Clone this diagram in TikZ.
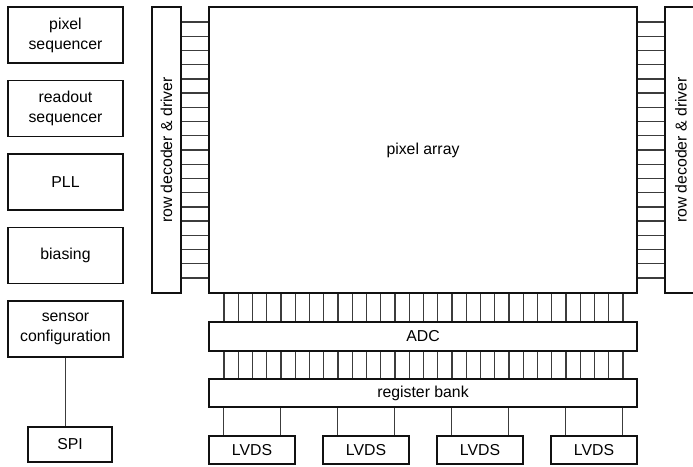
\documentclass[tikz,border=0pt]{standalone}
\usepackage{fontspec}
\setmainfont{Liberation Sans}
\usetikzlibrary{positioning}
\definecolor{wiregray}{HTML}{3C3C3C}
\definecolor{boxblack}{HTML}{111111}

\tikzset{
  block/.style={draw=boxblack, line width=0.85pt, minimum width=2.3cm, minimum height=1.12cm,
    inner sep=0pt, align=center, font=\fontsize{9}{11.4}\selectfont},
  wire/.style={wiregray, line width=0.75pt},
  label/.style={font=\fontsize{9}{11.4}\selectfont, inner sep=0pt},
}

\begin{document}
\begin{tikzpicture}[line width=0.85pt]
  \useasboundingbox (0,0) rectangle (13.86,9.32);

  \node[block] (pixseq) at (1.31,8.62) {pixel\\sequencer};
  \node[block, below=0.32cm of pixseq] (roseq) {readout\\sequencer};
  \node[block, below=0.32cm of roseq] (pll) {PLL};
  \node[block, below=0.32cm of pll] (bias) {biasing};
  \node[block, below=0.32cm of bias] (sencfg) {sensor\\configuration};
  \node[block, minimum width=1.68cm, minimum height=0.7cm] (spi) at (1.40,0.43) {SPI};
  \draw[wire] (sencfg.south) -- (sencfg.south |- spi.north);

  \node[block, minimum width=0.58cm, minimum height=5.72cm] (decl) at (3.33,6.32) {};
  \node[label, rotate=90] at (decl.center) {row decoder \& driver};
  \node[block, minimum width=8.56cm, minimum height=5.72cm] (arr) at (8.46,6.32) {pixel array};
  \node[block, minimum width=0.64cm, minimum height=5.72cm] (decr) at (13.62,6.32) {};
  \node[label, rotate=90] at (decr.center) {row decoder \& driver};

  \node[block, minimum width=8.56cm, minimum height=0.58cm] (adc) at (8.46,2.59) {ADC};
  \node[block, minimum width=8.56cm, minimum height=0.56cm] (regs) at (8.46,1.46) {register bank};

  \foreach \i in {0,...,18} {
    \coordinate (w) at (0,{8.88-\i*0.2844});
    \draw[wire] (decl.east |- w) -- (arr.west |- w);
    \draw[wire] (arr.east |- w) -- (decr.west |- w);
  }

  \foreach \i in {0,...,28} {
    \coordinate (v) at ({4.48+\i*0.285},0);
    \draw[wire] (arr.south -| v) -- (adc.north -| v);
    \draw[wire] (adc.south -| v) -- (regs.north -| v);
  }

  \foreach \x [count=\k] in {5.04,7.32,9.60,11.88} {
    \node[block, minimum width=1.72cm, minimum height=0.56cm] (lvds\k) at (\x,0.32) {LVDS};
    \coordinate (la) at ([xshift=-0.57cm]lvds\k.north);
    \coordinate (lb) at ([xshift=0.57cm]lvds\k.north);
    \draw[wire] (la) -- (regs.south -| la);
    \draw[wire] (lb) -- (regs.south -| lb);
  }
\end{tikzpicture}
\end{document}
